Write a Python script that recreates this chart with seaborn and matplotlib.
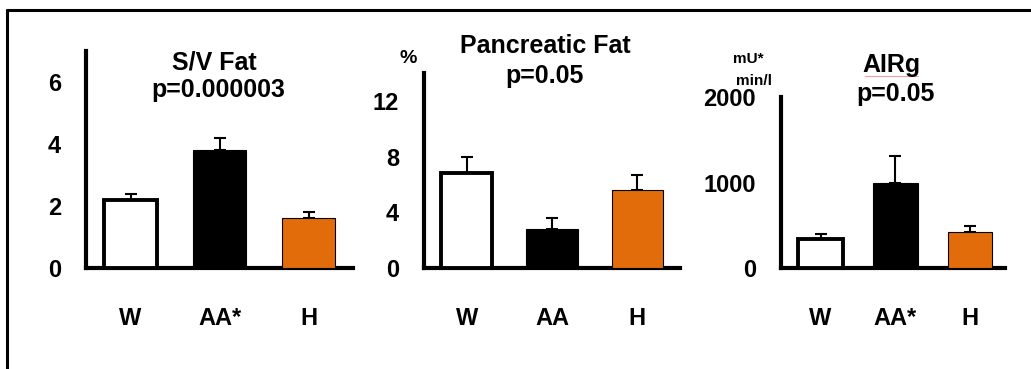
import matplotlib
matplotlib.use("Agg")
import matplotlib.pyplot as plt
from matplotlib.lines import Line2D
import seaborn as sns

sns.set_style("white")
plt.rcParams['font.family'] = ['Liberation Sans', 'DejaVu Sans']
plt.rcParams['font.weight'] = 'bold'
plt.rcParams['text.color'] = 'black'
plt.rcParams['xtick.color'] = 'black'
plt.rcParams['ytick.color'] = 'black'

# data
groups = ["W", "AA", "H"]
sv_labels = ["W", "AA*", "H"]
sv_fat = [2.18, 3.82, 1.62]
sv_err = [0.22, 0.38, 0.2]
panc_labels = ["W", "AA", "H"]
panc_fat = [6.8, 2.8, 5.6]
panc_err = [1.2, 0.8, 1.1]
air_labels = ["W", "AA*", "H"]
airg = [345, 1000, 420]
airg_err = [50, 315, 70]

fill = {"W": "white", "AA": "black", "H": "#E36C0A"}
edge_w = {"W": 2.8, "AA": 0.8, "H": 0.8}

W, H = 1031, 369
fig = plt.figure(figsize=(W / 100, H / 100), dpi=100)


def px_axes(left, right, top, bottom):
    return fig.add_axes([left / W, 1 - bottom / H, (right - left) / W, (bottom - top) / H])


def panel(ax, vals, errs, labels, ymax, ticks, xlim):
    sns.barplot(x=groups, y=vals, hue=groups, palette=fill, legend=False,
                width=0.6, saturation=1, ax=ax, zorder=3)
    for p, g in zip(ax.patches, groups):
        p.set_edgecolor("black")
        p.set_linewidth(edge_w[g])
    ax.errorbar(range(3), vals, yerr=[[0, 0, 0], errs], fmt="none",
                ecolor="black", elinewidth=1.5, capsize=4.5, capthick=1.5, zorder=2)
    ax.set_ylim(0, ymax)
    ax.set_xlim(*xlim)
    ax.set_yticks(ticks)
    ax.set_xticks(range(3))
    ax.set_xticklabels(labels, fontsize=17, fontweight="bold", color="black")
    for t in ax.get_yticklabels():
        t.set_fontsize(17)
        t.set_fontweight("bold")
        t.set_color("black")
    ax.tick_params(axis="x", length=0, pad=28)
    ax.tick_params(axis="y", direction="out", length=7, width=3, pad=11,
                   color="black")
    sns.despine(ax=ax)
    for s in ("left", "bottom"):
        ax.spines[s].set_linewidth(3)
        ax.spines[s].set_color("black")
    ax.set_xlabel("")
    ax.set_ylabel("")


ax1 = px_axes(86, 353, 51, 268)
panel(ax1, sv_fat, sv_err, sv_labels, 7, [0, 2, 4, 6], (-0.5, 2.5))
ax2 = px_axes(424, 680, 73, 268)
panel(ax2, panc_fat, panc_err, panc_labels, 14, [0, 4, 8, 12], (-0.5, 2.5))
ax3 = px_axes(781, 1005, 97, 268)
panel(ax3, airg, airg_err, air_labels, 2000, [0, 1000, 2000], (-0.53, 2.47))


def ftext(x, y, s, size, **kw):
    fig.text(x / W, 1 - y / H, s, fontsize=size, fontweight="bold",
             ha="center", va="baseline", color="black", **kw)


ftext(214, 70, "S/V Fat", 18)
ftext(218, 97, "p=0.000003", 18)
ftext(545, 53, "Pancreatic Fat", 18)
ftext(545, 83, "p=0.05", 18)
ftext(408, 63, "%", 14)
ftext(891, 72, "AIRg", 18)
ftext(896, 101, "p=0.05", 18)
ftext(748, 63, "mU*", 11)
ftext(754, 85, "min/l", 11)

# spell-check underline under AIRg
fig.add_artist(Line2D([865 / W, 918 / W], [1 - 76 / H, 1 - 76 / H],
                      color="#f4a0a0", lw=0.8))

# outer frame (top and left edges)
fig.add_artist(Line2D([7 / W, 1.0], [1 - 10 / H, 1 - 10 / H], color="black", lw=2.2))
fig.add_artist(Line2D([7 / W, 7 / W], [1 - 10 / H, 0.0], color="black", lw=2.2))

fig.savefig("out.png", dpi=100)
